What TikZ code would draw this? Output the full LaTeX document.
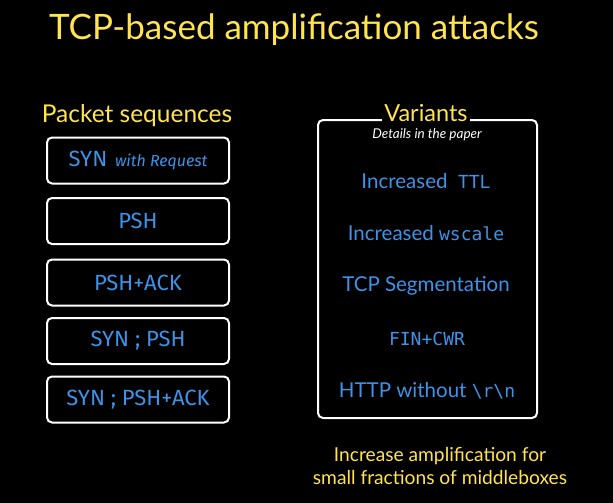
\documentclass[tikz,border=0pt]{standalone}
\usepackage{fontspec}
\setmainfont{Lato}
\newfontfamily\boxfont{Fira Sans}
\newfontfamily\codefont{DejaVu Sans Mono}
\definecolor{ttlyellow}{RGB}{255,228,80}
\definecolor{txtblue}{RGB}{62,146,232}
\begin{document}
\begin{tikzpicture}[x=1pt,y=-1pt,
  seqbox/.style={draw=white, line width=2pt, rounded corners=5pt, minimum width=182pt, minimum height=46pt, inner sep=0pt, text=txtblue, font=\boxfont\fontsize{22}{25}\selectfont},
  varitem/.style={text=txtblue, font=\fontsize{20.5}{24}\selectfont},
  heading/.style={text=ttlyellow}]
\fill[black] (0,0) rectangle (613,503);
\useasboundingbox (0,0) rectangle (613,503);
\node[heading, font=\fontsize{35}{40}\selectfont] (title) at (294,30) {TCP-based amplification attacks};
\node[heading, font=\fontsize{24.5}{28}\selectfont] (pkt) at (137,116) {Packet sequences};
\node[seqbox] (b1) at (138,160.5) {SYN\,{\itshape\fontsize{16}{19}\selectfont\ with Request}};
\node[seqbox] (b2) at (138,221) {PSH};
\node[seqbox] (b3) at (138,282.5) {PSH+ACK};
\node[seqbox] (b4) at (138,341) {SYN ; PSH};
\node[seqbox] (b5) at (138,399.5) {SYN ; PSH+ACK};
\node[draw=white, line width=2pt, rounded corners=5pt, minimum width=219pt, minimum height=298pt] (vbox) at (427.5,269) {};
\node[heading, fill=black, inner xsep=2pt, inner ysep=0pt, font=\fontsize{23.5}{27}\selectfont] (var) at (426,113) {Variants};
\node[text=white, font=\itshape\fontsize{13.5}{16}\selectfont] (det) at (427,135) {Details in the paper};
\node[varitem] (v1) at (426,181) {Increased\ \ {\codefont\fontsize{18}{22}\selectfont TTL}};
\node[varitem] (v2) at (426,233) {Increased {\codefont\fontsize{18}{22}\selectfont wscale}};
\node[varitem] (v3) at (426,286) {TCP Segmentation};
\node[varitem, font=\codefont\fontsize{18}{22}\selectfont] (v4) at (427,339) {FIN+CWR};
\node[varitem] (v5) at (427,391) {HTTP without {\codefont\fontsize{18}{22}\selectfont\textbackslash r\textbackslash n}};
\node[heading, align=center, font=\fontsize{19.2}{23}\selectfont] (note) at (440,466) {Increase amplification for\\small fractions of middleboxes};
\end{tikzpicture}
\end{document}
